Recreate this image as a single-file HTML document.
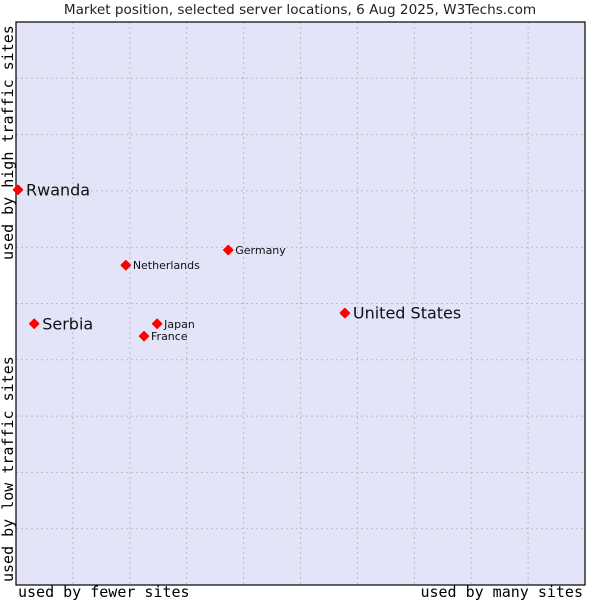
<!DOCTYPE html>
<html><head><meta charset="utf-8"><style>
body{margin:0;background:#fff;}
svg text{font-family:"DejaVu Sans",sans-serif;}
</style></head><body>
<svg id="chart" width="600" height="600" xmlns="http://www.w3.org/2000/svg">
<text x="300" y="14" text-anchor="middle" font-size="13.6" fill="#222">Market position, selected server locations, 6 Aug 2025, W3Techs.com</text>
<rect x="16" y="22" width="569" height="563" fill="#e4e4f8"/>
<g id="grid"></g>
<rect x="16" y="22" width="569" height="563" fill="none" stroke="#000" stroke-width="1.2"/>
<text x="18" y="597" font-size="15" fill="#000" style="font-family:'DejaVu Sans Mono',monospace">used by fewer sites</text>
<text x="583" y="597" text-anchor="end" font-size="15" fill="#000" style="font-family:'DejaVu Sans Mono',monospace">used by many sites</text>
<text transform="translate(13,260) rotate(-90)" font-size="15" fill="#000" style="font-family:'DejaVu Sans Mono',monospace">used by high traffic sites</text>
<text transform="translate(13,582) rotate(-90)" font-size="15" fill="#000" style="font-family:'DejaVu Sans Mono',monospace">used by low traffic sites</text>
<g id="points"></g>
</svg>
<script>
const names = ["Rwanda","Serbia","Netherlands","Germany","Japan","France","United States"];
const xValues = [0.35,3.2,19.3,37.3,24.8,22.5,57.8];
const yValues = [70.2,46.4,56.8,59.5,46.4,44.2,48.3];
const bigLabel = [true,true,false,false,false,false,true];
const NS="http://www.w3.org/2000/svg";
const X0=16,X1=585,Y0=22,Y1=585;
function xs(v){return X0+v/100*(X1-X0);}
function ys(v){return Y1-v/100*(Y1-Y0);}
const grid=document.getElementById('grid');
for(let i=1;i<10;i++){
  const l=document.createElementNS(NS,'line');
  l.setAttribute('x1',xs(i*10));l.setAttribute('x2',xs(i*10));l.setAttribute('y1',Y0);l.setAttribute('y2',Y1);
  l.setAttribute('stroke','#bbb');l.setAttribute('stroke-dasharray','2,3');
  
  
  grid.appendChild(l);
  const h=document.createElementNS(NS,'line');
  h.setAttribute('y1',ys(i*10));h.setAttribute('y2',ys(i*10));h.setAttribute('x1',X0);h.setAttribute('x2',X1);
  h.setAttribute('stroke','#bbb');h.setAttribute('stroke-dasharray','2,3');
  
  
  grid.appendChild(h);
}
const pts=document.getElementById('points');
names.forEach((n,i)=>{
  const cx=xs(xValues[i]),cy=ys(yValues[i]);
  const p=document.createElementNS(NS,'polygon');
  p.setAttribute('points',`${cx},${cy-4.5} ${cx+4.5},${cy} ${cx},${cy+4.5} ${cx-4.5},${cy}`);
  p.setAttribute('fill','#f00');p.setAttribute('stroke','#f00');p.setAttribute('stroke-width','1.5');p.setAttribute('stroke-linejoin','round');
  
  
  pts.appendChild(p);
  const t=document.createElementNS(NS,'text');
  t.setAttribute('x',cx+(bigLabel[i]?8:7));t.setAttribute('y',cy+(bigLabel[i]?5.5:4));
  t.setAttribute('font-size',bigLabel[i]?16:11);t.setAttribute('fill','#111');
  t.textContent=n;
  
  
  pts.appendChild(t);
});
</script>
</body></html>
